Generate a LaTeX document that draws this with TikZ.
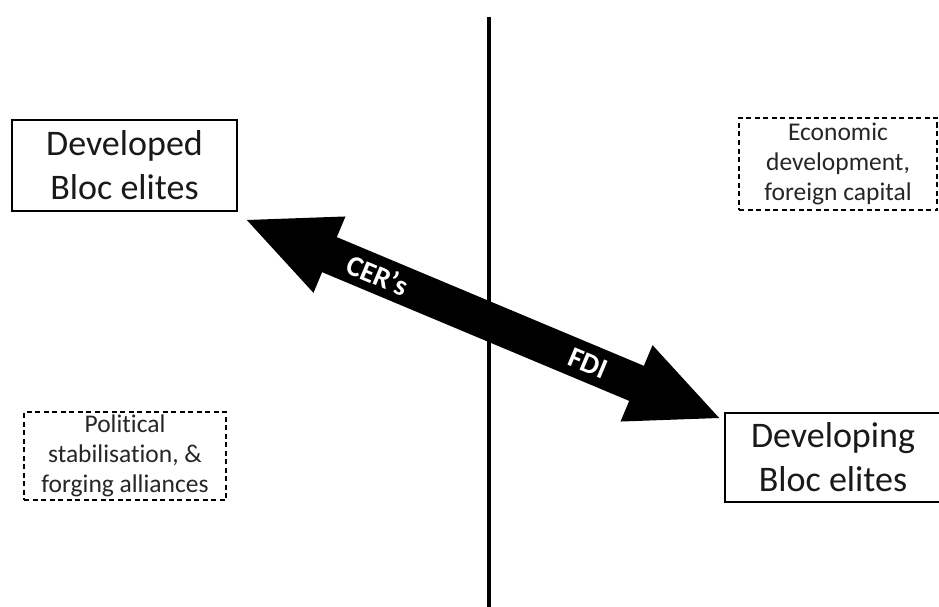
\documentclass[tikz,border=0pt]{standalone}
\usepackage{fontspec}
\setmainfont{Carlito}[Ligatures=NoCommon, Contextuals=NoAlternate, RawFeature={-dlig}]
\usetikzlibrary{arrows.meta}

\tikzset{
  elitebox/.style={draw=black, line width=1.4pt, fill=white, align=center,
    inner sep=0pt, font=\fontsize{36}{44}\selectfont, text=black!90},
  notebox/.style={draw=black, line width=1.2pt, dash pattern=on 5pt off 3.5pt,
    fill=white, align=center, inner sep=0pt,
    font=\fontsize{25.5}{30}\selectfont, text=black!85},
  divider/.style={line width=4.5pt, draw=black},
  flow/.style={line width=38pt, draw=black,
    {Triangle[length=93pt,width=75pt]}-{Triangle[length=93pt,width=75pt]}},
  flowlabel/.style={text=white, font=\bfseries\fontsize{29}{32}\selectfont, sloped}
}

\begin{document}
\begin{tikzpicture}[x=1pt, y=-1pt]
  \useasboundingbox (0,0) rectangle (939,607);

  % vertical divider
  \coordinate (vtop) at (489,17);
  \coordinate (vbot) at (489,610);
  \draw[divider] (vtop) -- (vbot);

  % the two blocs
  \node[elitebox, minimum width=225pt, minimum height=91pt] (dev) at (124.5,165.5)
    {Developed\\Bloc elites};
  \node[elitebox, minimum width=216pt, minimum height=89pt] (dvg) at (833,457.5)
    {Developing\\Bloc elites};

  % side notes (t and i kept apart, no ligature)
  \node[notebox, minimum width=198pt, minimum height=92pt] (eco) at (838,164)
    {Economic\\development,\\foreign capital};
  \node[notebox, minimum width=202pt, minimum height=88pt] (pol) at (125,456)
    {Polit\kern0pt ical\\stabilisat\kern0pt ion, \&\\forging alliances};

  % two-way flow between the blocs
  \draw[flow] ([shift={(6,7)}]dev.south east) -- ([shift={(-2,7)}]dvg.north west)
    node[flowlabel, pos=0.28] (cer) {CER’s}
    node[flowlabel, pos=0.72] (fdi) {FDI};
\end{tikzpicture}
\end{document}
